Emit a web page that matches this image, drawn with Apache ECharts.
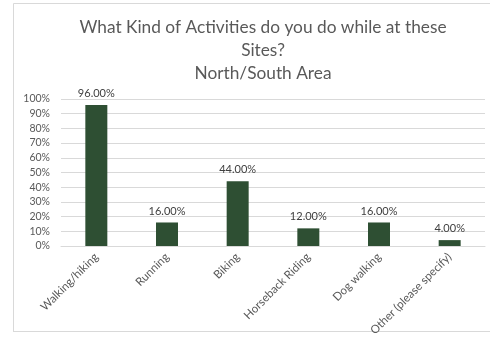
<!DOCTYPE html>
<html><head><meta charset="utf-8">
<script src="https://cdn.jsdelivr.net/npm/echarts@6/dist/echarts.min.js"></script>
<style>html,body{margin:0;padding:0;background:#fff}#c{width:490px;height:352px}</style>
</head><body><div id="c"></div>
<script>
const categories = ["Walking/hiking","Running","Biking","Horseback Riding","Dog walking","Other (please specify)"];
const values = [96, 16, 44, 12, 16, 4];
const yTicks = [0,10,20,30,40,50,60,70,80,90,100];
const titleText = "What Kind of Activities do you do while at these\nSites?\nNorth/South Area";

const chart = echarts.init(document.getElementById('c'), null, {renderer:'canvas'});
chart.setOption({
  animation:false,
  backgroundColor:'#fff',
  graphic:[{type:'polyline', shape:{points:[[13.5,331.5],[13.5,3.5],[500,3.5]]}, style:{stroke:'#d9d9d9', fill:null, lineWidth:1}},
           {type:'line', shape:{x1:13,y1:331.5,x2:500,y2:331.5}, style:{stroke:'#d9d9d9', lineWidth:1}}],
  title:{text:titleText, left:258, top:11, textAlign:'center',
    textStyle:{fontFamily:'Lato', fontWeight:'normal', fontSize:17.3, color:'#595959', lineHeight:23}},
  grid:{left:61, right:5, top:99, bottom:106},
  xAxis:{type:'category', data:categories,
    axisLine:{lineStyle:{color:'#d9d9d9'}}, axisTick:{show:false},
    axisLabel:{rotate:45, interval:0, margin:9, fontFamily:'Lato', fontSize:11.5, color:'#595959'}},
  yAxis:{type:'value', min:yTicks[0], max:yTicks[yTicks.length-1], interval:10,
    axisLine:{show:false}, axisTick:{show:false},
    splitLine:{lineStyle:{color:'#d9d9d9'}},
    axisLabel:{formatter:v=>v+'%', fontFamily:'Lato', fontSize:10.5, color:'#595959', margin:11}},
  series:[{type:'bar', data:values, barWidth:22, itemStyle:{color:'#2e4f33'},
    label:{show:true, position:'top', distance:6, formatter:p=>p.value.toFixed(2)+'%',
      fontFamily:'Lato', fontSize:11, color:'#404040'}}]
});
</script></body></html>
